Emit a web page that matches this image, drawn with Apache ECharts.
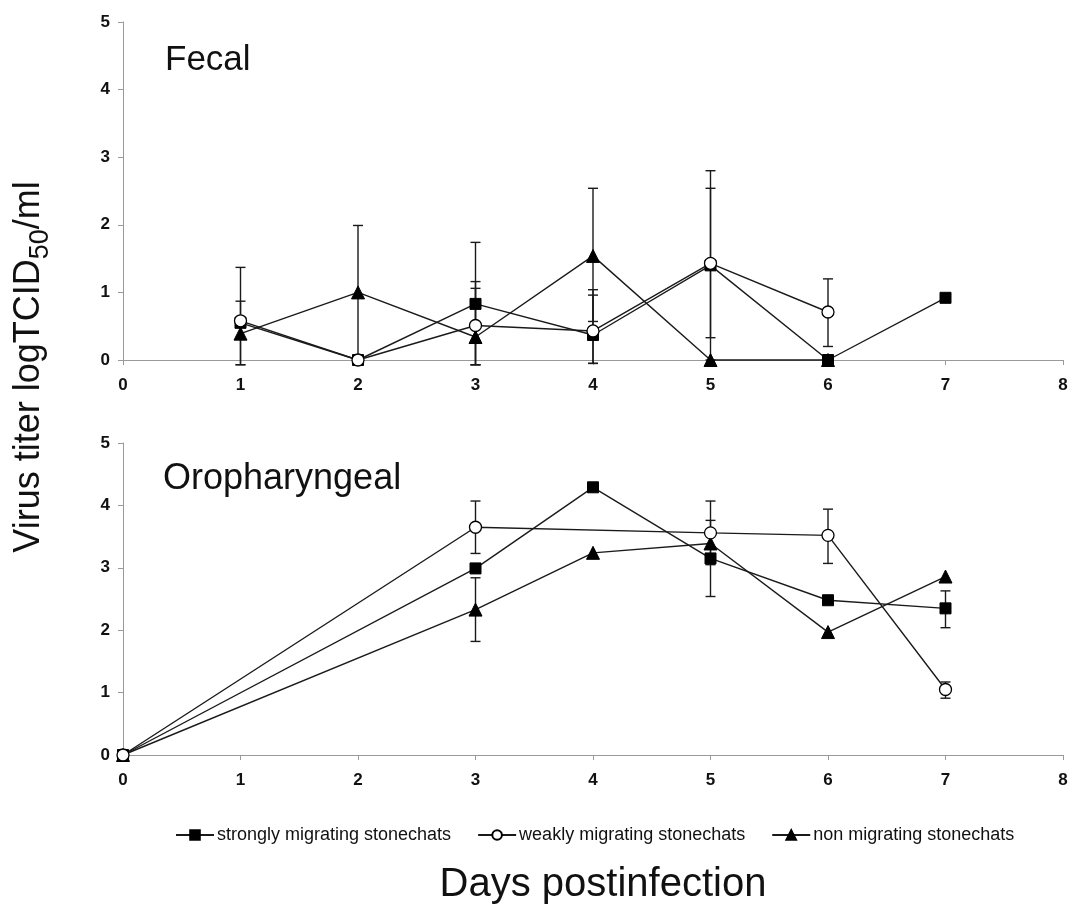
<!DOCTYPE html>
<html>
<head>
<meta charset="utf-8">
<script src="https://cdn.jsdelivr.net/npm/echarts@6/dist/echarts.min.js"></script>
<style>
html,body{margin:0;padding:0;background:#fff;}
#chart{width:1079px;height:908px;}
</style>
</head>
<body>
<div id="chart"></div>
<script>
// ---- Data ----
const seriesNames = ['strongly migrating stonechats', 'weakly migrating stonechats', 'non migrating stonechats'];
const xTicks = [0, 1, 2, 3, 4, 5, 6, 7, 8];
const yTicks = [0, 1, 2, 3, 4, 5];

// Fecal panel [day, titer]
const fecalStrong = [[1, 0.55], [2, 0], [3, 0.83], [4, 0.37], [5, 1.40], [6, 0], [7, 0.92]];
const fecalWeak = [[1, 0.58], [2, 0], [3, 0.51], [4, 0.43], [5, 1.43], [6, 0.71]];
const fecalNon = [[1, 0.39], [2, 1.00], [3, 0.34], [4, 1.54], [5, 0], [6, 0]];
// Fecal error bars [day, low, high]
const fecalErr = [[1, -0.07, 1.37], [1, -0.07, 0.87], [2, 0, 1.99], [3, -0.07, 1.74], [3, -0.07, 1.16], [3, -0.07, 1.06],
  [4, 0.57, 2.54], [4, -0.05, 1.04], [4, -0.05, 0.96], [5, 0, 2.80], [5, 0.33, 2.54], [6, 0.20, 1.20]];

// Oropharyngeal panel [day, titer]
const oroStrong = [[0, 0], [3, 2.99], [4, 4.29], [5, 3.15], [6, 2.48], [7, 2.35]];
const oroWeak = [[0, 0], [3, 3.65], [5, 3.56], [6, 3.52], [7, 1.05]];
const oroNon = [[0, 0], [3, 2.33], [4, 3.24], [5, 3.39], [6, 1.97], [7, 2.86]];
// Oropharyngeal error bars [day, low, high]
const oroErr = [[3, 3.23, 4.07], [3, 1.82, 2.84], [5, 3.05, 4.07], [5, 2.54, 3.76], [6, 3.07, 3.94], [7, 2.04, 2.63], [7, 0.91, 1.17]];

// ---- Chart ----
const chart = echarts.init(document.getElementById('chart'));
const FONT = 'Liberation Sans, Arial, sans-serif';
const axisGray = '#9a9a9a';
const lineColor = '#1a1a1a';

function xAxisCfg(gi) {
  return {
    type: 'value', gridIndex: gi, min: xTicks[0], max: xTicks[xTicks.length - 1], interval: 1,
    axisLine: { show: true, lineStyle: { color: axisGray, width: 1 } },
    axisTick: { show: true, length: 5, lineStyle: { color: axisGray } },
    splitLine: { show: false },
    axisLabel: { color: '#111', fontSize: 17, fontWeight: 'bold', fontFamily: FONT, margin: 17 }
  };
}
function yAxisCfg(gi) {
  return {
    type: 'value', gridIndex: gi, min: yTicks[0], max: yTicks[yTicks.length - 1], interval: 1,
    axisLine: { show: true, lineStyle: { color: axisGray, width: 1 } },
    axisTick: { show: true, length: 5, lineStyle: { color: axisGray } },
    splitLine: { show: false },
    axisLabel: { color: '#111', fontSize: 17, fontWeight: 'bold', fontFamily: FONT, margin: 13 }
  };
}

const styles = [
  { symbol: 'rect', symbolSize: 11, itemStyle: { color: '#000', borderColor: '#000', borderWidth: 1 } },
  { symbol: 'circle', symbolSize: 12, itemStyle: { color: '#fff', borderColor: '#000', borderWidth: 1.3 } },
  { symbol: 'triangle', symbolSize: 13, itemStyle: { color: '#000', borderColor: '#000', borderWidth: 1 } }
];

function lineSeries(name, idx, data, gi) {
  const s = styles[idx];
  return {
    type: 'line', name: name, xAxisIndex: gi, yAxisIndex: gi, data: data,
    symbol: s.symbol, symbolSize: s.symbolSize, showAllSymbol: true,
    itemStyle: s.itemStyle,
    lineStyle: { color: lineColor, width: 1.4 },
    z: idx === 1 ? 5 : 4,
    animation: false, clip: false
  };
}

function errSeries(data, gi) {
  return {
    type: 'custom', xAxisIndex: gi, yAxisIndex: gi, data: data, z: 2, silent: true,
    encode: { x: 0, y: [1, 2] },
    renderItem: function (params, api) {
      const x = api.value(0), lo = api.value(1), hi = api.value(2);
      const pHi = api.coord([x, hi]);
      const pLo = api.coord([x, lo]);
      const hw = 5;
      const st = { stroke: lineColor, lineWidth: 1.4 };
      return {
        type: 'group',
        children: [
          { type: 'line', shape: { x1: pHi[0], y1: pHi[1], x2: pLo[0], y2: pLo[1] }, style: st },
          { type: 'line', shape: { x1: pHi[0] - hw, y1: pHi[1], x2: pHi[0] + hw, y2: pHi[1] }, style: st },
          { type: 'line', shape: { x1: pLo[0] - hw, y1: pLo[1], x2: pLo[0] + hw, y2: pLo[1] }, style: st }
        ]
      };
    },
    animation: false
  };
}

const option = {
  backgroundColor: '#fff',
  animation: false,
  grid: [
    { left: 123, top: 22, width: 940, height: 338 },
    { left: 123, top: 443, width: 940, height: 312 }
  ],
  xAxis: [xAxisCfg(0), xAxisCfg(1)],
  yAxis: [yAxisCfg(0), yAxisCfg(1)],
  legend: {
    data: seriesNames,
    left: 170, top: 821,
    itemWidth: 38, itemHeight: 12, itemGap: 26,
    textStyle: { fontSize: 18, fontFamily: FONT, color: '#111', padding: [0, 0, 0, -2] },
    selectedMode: false
  },
  graphic: [
    { type: 'text', x: 165, y: 60, style: { text: 'Fecal', font: '35px ' + FONT, fill: '#111', verticalAlign: 'middle' } },
    { type: 'text', x: 163, y: 479, style: { text: 'Oropharyngeal', font: '36px ' + FONT, fill: '#111', verticalAlign: 'middle' } },
    { type: 'text', x: 603, y: 885, style: { text: 'Days postinfection', font: '40px ' + FONT, fill: '#111', align: 'center', verticalAlign: 'middle' } },
    {
      type: 'text', x: 41, y: 367, rotation: Math.PI / 2,
      style: {
        text: '{a|Virus titer logTCID}{b|50}{a|/ml}',
        align: 'center', verticalAlign: 'middle', fill: '#111',
        rich: {
          a: { fontSize: 36, fontFamily: FONT, lineHeight: 36, verticalAlign: 'top', fill: '#111' },
          b: { fontSize: 27, fontFamily: FONT, lineHeight: 60, fill: '#111' }
        }
      }
    }
  ],
  series: [
    errSeries(fecalErr, 0),
    lineSeries(seriesNames[0], 0, fecalStrong, 0),
    lineSeries(seriesNames[2], 2, fecalNon, 0),
    lineSeries(seriesNames[1], 1, fecalWeak, 0),
    errSeries(oroErr, 1),
    lineSeries(seriesNames[0], 0, oroStrong, 1),
    lineSeries(seriesNames[2], 2, oroNon, 1),
    lineSeries(seriesNames[1], 1, oroWeak, 1)
  ]
};
chart.setOption(option);
</script>
</body>
</html>
